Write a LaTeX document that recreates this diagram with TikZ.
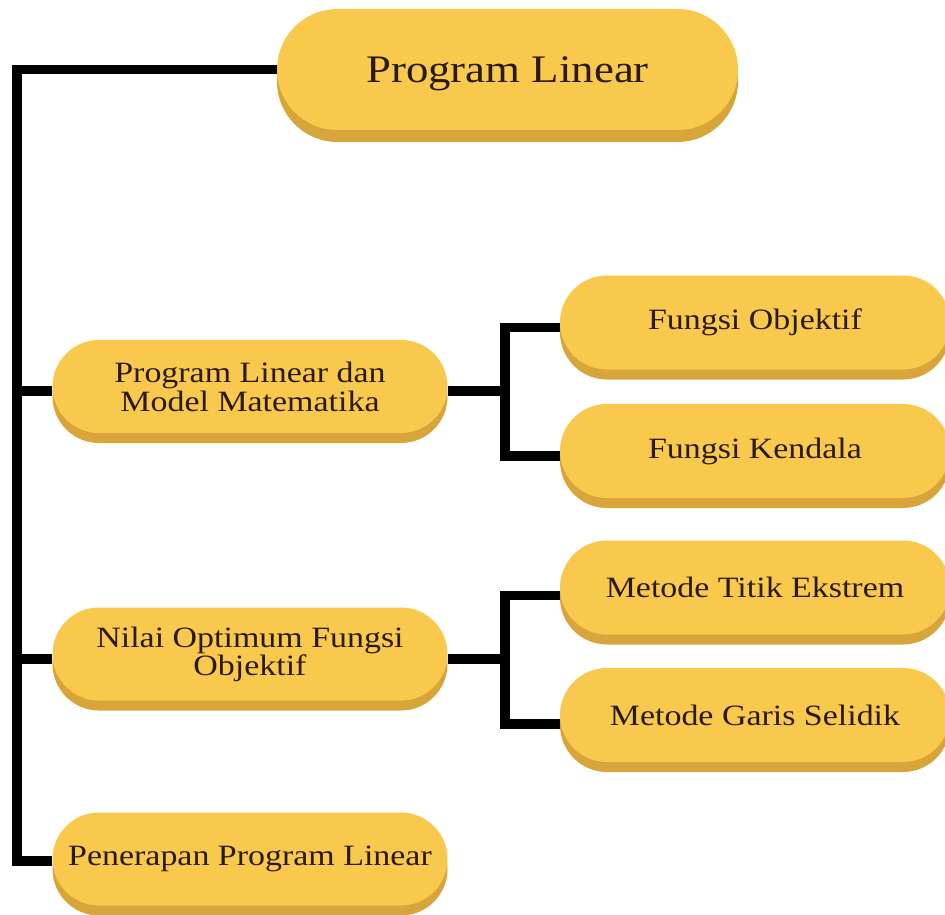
\documentclass[tikz,border=0pt]{standalone}
\usepackage{fontspec}
\setmainfont{Liberation Serif}[FakeStretch=1.15]
\usetikzlibrary{shapes.misc,shadows,backgrounds,calc}
\definecolor{face}{HTML}{F8C94C}
\definecolor{shade}{HTML}{D8A53A}
\definecolor{ink}{HTML}{2A1A0C}
\tikzset{
  pillbase/.style={rounded rectangle, fill=face, text=ink, align=center, inner sep=0pt},
  topbox/.style={pillbase, minimum width=461pt, minimum height=121pt,
    font=\fontsize{39}{40}\selectfont, text depth=0pt,
    general shadow={fill=shade, shadow yshift=-12pt}},
  leftbox/.style={pillbase, minimum width=395pt, minimum height=93pt,
    font=\fontsize{29.5}{29}\selectfont,
    general shadow={fill=shade, shadow yshift=-10pt}},
  rightbox/.style={pillbase, minimum width=390pt, minimum height=94pt,
    font=\fontsize{29.5}{29}\selectfont,
    general shadow={fill=shade, shadow yshift=-10pt}},
  conn/.style={line width=9.5pt, draw=black, line join=miter}
}
\begin{document}
\begin{tikzpicture}[x=1pt,y=-1pt]
\useasboundingbox (0,0) rectangle (945,915);

\node[topbox] (top) at (507.5,69.5) {Program Linear};
\node[leftbox] (pl) at (250,386.5) {Program Linear dan\\Model Matematika};
\node[leftbox] (nil) at (250,654) {Nilai Optimum Fungsi\\[-1pt]Objektif};
\node[leftbox] (pen) at (250,859) {Penerapan Program Linear};
\node[rightbox] (fo) at (755,322.5) {Fungsi Objektif};
\node[rightbox] (fk) at (755,451) {Fungsi Kendala};
\node[rightbox] (mte) at (755,587.5) {Metode Titik Ekstrem};
\node[rightbox] (mgs) at (755,715) {Metode Garis Selidik};

\coordinate (sp1) at (17,68);
\coordinate (sp2) at (17,861);
\coordinate (br) at (505,0);
\coordinate (plin) at ($(pl.west)+(0,4.5)$);
\coordinate (plout) at ($(pl.east)+(0,4.5)$);
\coordinate (nilin) at ($(nil.west)+(0,5)$);
\coordinate (nilout) at ($(nil.east)+(0,5)$);
\coordinate (foin) at ($(fo.west)+(0,5)$);
\coordinate (fkin) at ($(fk.west)+(0,5)$);
\coordinate (mtein) at ($(mte.west)+(0,8)$);
\coordinate (mgsin) at ($(mgs.west)+(0,9)$);

\begin{scope}[on background layer]
\fill[white] (0,0) rectangle (945,915);
\draw[conn] (top.west) -- (top.west -| sp1) -- (sp2) -- (sp2 -| pen.west);
\draw[conn] (plin) -- (plin -| sp1);
\draw[conn] (nilin) -- (nilin -| sp1);
\draw[conn] (plout) -- (plout -| br);
\draw[conn] (foin) -| (br |- fkin) -- (fkin);
\draw[conn] (nilout) -- (nilout -| br);
\draw[conn] (mtein) -| (br |- mgsin) -- (mgsin);
\end{scope}
\end{tikzpicture}
\end{document}
